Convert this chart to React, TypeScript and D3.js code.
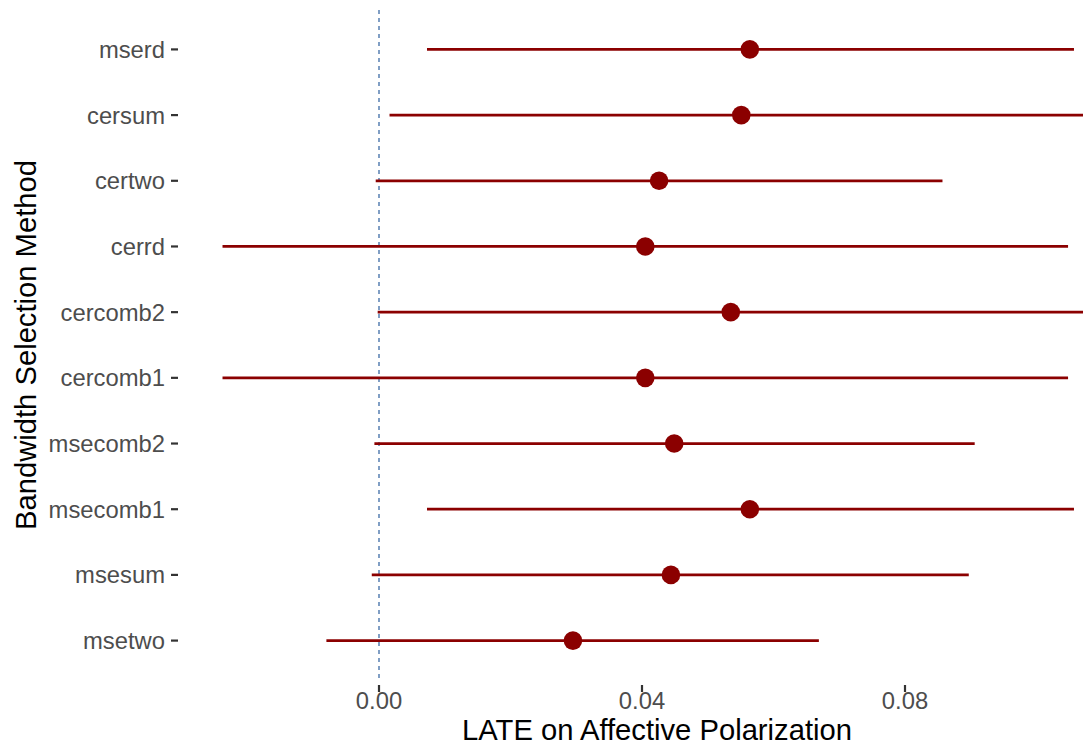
import React from "react";
import * as d3 from "d3";

const width = 1083;
const height = 746;

// categories top to bottom
const methods = [
  "mserd",
  "cersum",
  "certwo",
  "cerrd",
  "cercomb2",
  "cercomb1",
  "msecomb2",
  "msecomb1",
  "msesum",
  "msetwo",
];
const estimates = [0.0564, 0.0551, 0.0426, 0.0405, 0.0535, 0.0405, 0.0449, 0.0564, 0.0444, 0.0295];
const ciLow = [0.0073, 0.0016, -0.0005, -0.0238, -0.0002, -0.0238, -0.0007, 0.0073, -0.0011, -0.008];
const ciHigh = [0.1057, 0.111, 0.0857, 0.1048, 0.111, 0.1048, 0.0906, 0.1057, 0.0897, 0.0669];

const xTicks = [0, 0.04, 0.08];
const xTickLabels = ["0.00", "0.04", "0.08"];

const panelTop = 10;
const panelBottom = 680;
const panelLeft = 178;

const font = "'Liberation Sans', Arial, Helvetica, sans-serif";
const red = "#8B0000";

export default function App() {
  const x = d3.scaleLinear().domain([0, 0.08]).range([379, 905]);
  const y = d3.scalePoint<string>().domain(methods).range([panelTop, panelBottom]).padding(0.6);

  return (
    <svg width={width} height={height} style={{ position: "absolute", left: 0, top: 0 }}>
      <rect width={width} height={height} fill="#fff" />
      {/* zero reference line */}
      <line
        x1={x(0)}
        x2={x(0)}
        y1={panelTop}
        y2={panelBottom}
        stroke="#3D6CA6"
        strokeWidth={1.3}
        strokeDasharray="4,4"
      />
      {methods.map((m, i) => (
        <g key={m}>
          <line
            x1={x(ciLow[i])}
            x2={x(ciHigh[i])}
            y1={y(m)}
            y2={y(m)}
            stroke={red}
            strokeWidth={2.7}
          />
          <circle cx={x(estimates[i])} cy={y(m)} r={9.3} fill={red} />
        </g>
      ))}
      {/* y axis */}
      {methods.map((m) => (
        <g key={"t" + m}>
          <line x1={panelLeft - 7} x2={panelLeft} y1={y(m)} y2={y(m)} stroke="#333" strokeWidth={2.2} />
          <text
            x={panelLeft - 13}
            y={y(m)}
            dy="0.36em"
            textAnchor="end"
            fontFamily={font}
            fontSize={23.8}
            fill="#4D4D4D"
          >
            {m}
          </text>
        </g>
      ))}
      {/* x axis */}
      {xTicks.map((t, i) => (
        <g key={"x" + t}>
          <line x1={x(t)} x2={x(t)} y1={panelBottom + 5} y2={panelBottom + 12} stroke="#333" strokeWidth={2.2} />
          <text
            x={x(t)}
            y={panelBottom + 29}
            textAnchor="middle"
            fontFamily={font}
            fontSize={23.8}
            fill="#4D4D4D"
          >
            {xTickLabels[i]}
          </text>
        </g>
      ))}
      <text
        x={657}
        y={740}
        textAnchor="middle"
        fontFamily={font}
        fontSize={29.2}
        fill="#000"
      >
        LATE on Affective Polarization
      </text>
      <text
        transform={`translate(${36},${(panelTop + panelBottom) / 2}) rotate(-90)`}
        textAnchor="middle"
        fontFamily={font}
        fontSize={29.2}
        fill="#000"
      >
        Bandwidth Selection Method
      </text>
    </svg>
  );
}
